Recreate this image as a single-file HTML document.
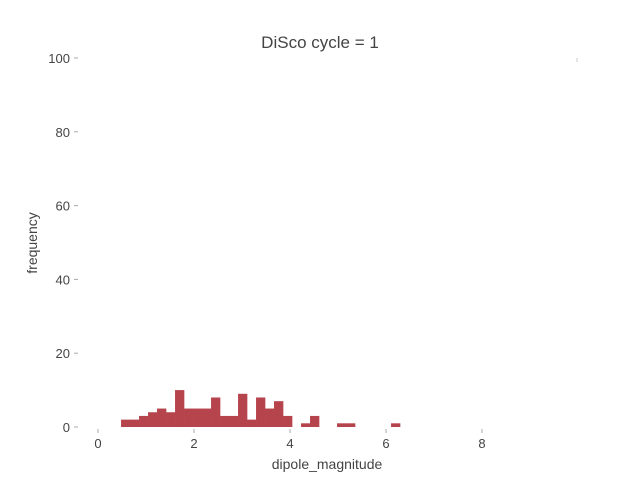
<!DOCTYPE html>
<html><head><meta charset="utf-8"><style>
body{margin:0;background:#fff;font-family:"Liberation Sans",sans-serif}
text{fill:#444}
</style></head><body>
<svg width="640" height="480">
<text x="320" y="48" text-anchor="middle" font-size="17">DiSco cycle = 1</text>
<g id="yaxis"></g>
<g id="xaxis"></g>
<g id="bars"></g>
<line x1="577" y1="58" x2="577" y2="62" stroke="#ccc"/>
<text x="327" y="469" text-anchor="middle" font-size="14">dipole_magnitude</text>
<text transform="translate(37,243) rotate(-90)" text-anchor="middle" font-size="14">frequency</text>
</svg>
<script>
const binStart = 0.48;
const binWidth = 0.1875;
const counts = [2,2,3,4,5,4,10,5,5,5,8,3,3,9,2,8,5,7,3,0,1,3,0,0,1,1,0,0,0,0,1];
const xTicks = [0,2,4,6,8];
const yTicks = [0,20,40,60,80,100];
const NS="http://www.w3.org/2000/svg";
const xs = v => 98 + v*48;
const ys = v => 427 - v*3.69;
const bars=document.getElementById('bars');
counts.forEach((c,i)=>{
  if(!c) return;
  const r=document.createElementNS(NS,'rect');
  const x0=xs(binStart+i*binWidth), x1=xs(binStart+(i+1)*binWidth);
  r.setAttribute('x',x0);r.setAttribute('width',x1-x0+0.3);
  r.setAttribute('y',ys(c));r.setAttribute('height',ys(0)-ys(c));
  r.setAttribute('fill','#b5444d');
  
  
  bars.appendChild(r);
});
const ya=document.getElementById('yaxis');
yTicks.forEach(t=>{
  const tx=document.createElementNS(NS,'text');
  tx.setAttribute('x',70);tx.setAttribute('y',ys(t)+5);
  tx.setAttribute('text-anchor','end');tx.setAttribute('font-size','13');
  tx.textContent=t;
  
  
  ya.appendChild(tx);
  const l=document.createElementNS(NS,'line');
  l.setAttribute('x1',74);l.setAttribute('x2',78);l.setAttribute('y1',ys(t));l.setAttribute('y2',ys(t));
  l.setAttribute('stroke','#aaa');
  
  
  ya.appendChild(l);
});
const xa=document.getElementById('xaxis');
xTicks.forEach(t=>{
  const tx=document.createElementNS(NS,'text');
  tx.setAttribute('x',xs(t));tx.setAttribute('y',448);
  tx.setAttribute('text-anchor','middle');tx.setAttribute('font-size','13');
  tx.textContent=t;
  
  
  xa.appendChild(tx);
  const l=document.createElementNS(NS,'line');
  l.setAttribute('x1',xs(t));l.setAttribute('x2',xs(t));l.setAttribute('y1',429);l.setAttribute('y2',433);
  l.setAttribute('stroke','#aaa');
  
  
  xa.appendChild(l);
});
</script>
</body></html>
